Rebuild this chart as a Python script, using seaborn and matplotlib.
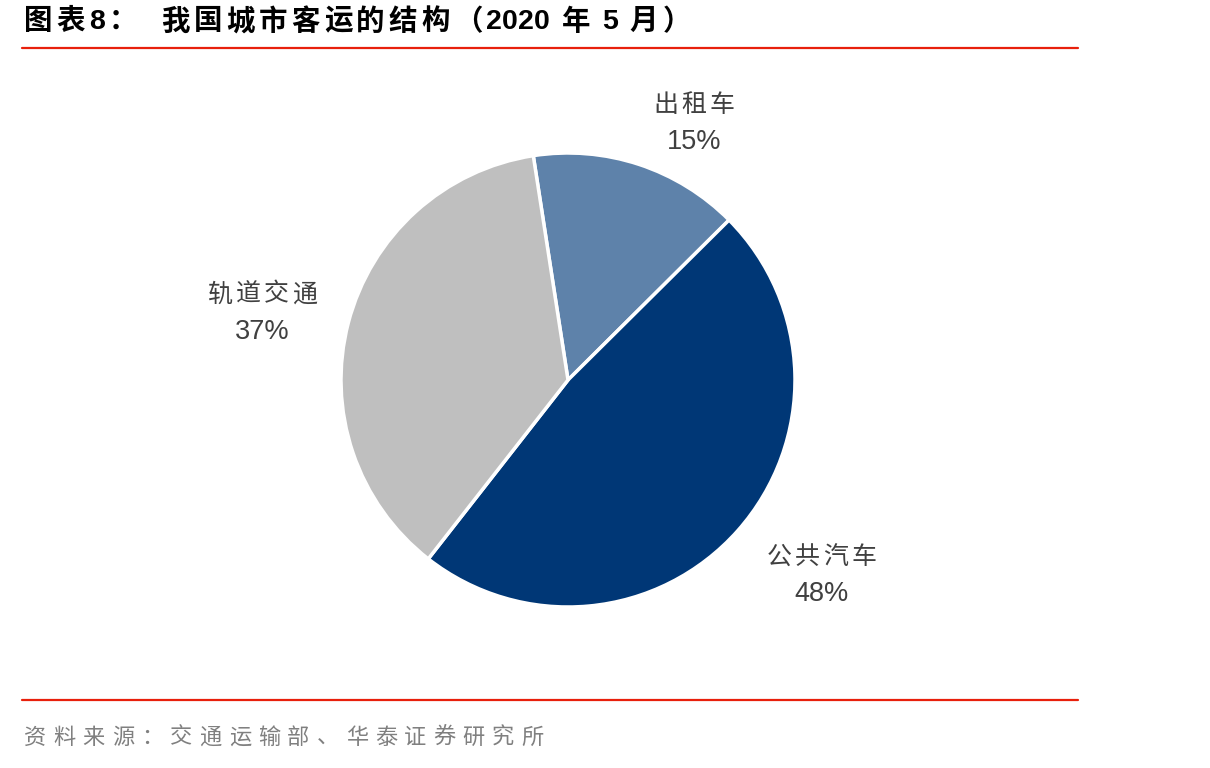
import matplotlib
matplotlib.use('Agg')
import matplotlib.pyplot as plt
import numpy as np
import seaborn as sns

sns.set_style('white')
plt.rcParams['font.family'] = ['Liberation Sans', 'Noto Sans CJK SC', 'DejaVu Sans']

# data
categories = ['出租车', '公共汽车', '轨道交通']
shares = [15, 48, 37]
slice_colors = ['#5E82AA', '#003776', '#BFBFBF']

title = '图表8：  我国城市客运的结构（2020 年 5 月）'
source = '资料来源：交通运输部、华泰证券研究所'

# label placement: (radius factor, angle shift in degrees)
label_pos = [(1.26, -8), (1.41, 4), (1.38, 2.2)]

W, H = 1210, 768
fig = plt.figure(figsize=(W / 100, H / 100), dpi=100)
renderer = fig.canvas.get_renderer()


def spaced_text(x, y, s, size, track, ha='left', **kw):
    """draw s char by char from pixel (x, y from top), extra tracking px around CJK chars"""
    widths = []
    for ch in s:
        t = fig.text(0, 0, ch, fontsize=size, **kw)
        widths.append(t.get_window_extent(renderer).width if ch != ' ' else size * 0.28 * 1.389)
        t.remove()
    gaps = [0 if (a.isascii() and b.isascii()) else track for a, b in zip(s, s[1:])] + [0]
    total = sum(widths) + sum(gaps)
    x0 = x - total / 2 if ha == 'center' else x
    for ch, w, g in zip(s, widths, gaps):
        fig.text(x0 / W, 1 - y / H, ch, fontsize=size, ha='left', va='center', **kw)
        x0 += w + g


# pie axes: centre (568,380), radius 227 px
cx, cy, r = 568, 380, 227
ax = fig.add_axes([(cx - r) / W, (H - cy - r) / H, 2 * r / W, 2 * r / H])
wedges, _ = ax.pie(shares, colors=slice_colors, startangle=98.8, counterclock=False,
                   radius=1, wedgeprops=dict(edgecolor='white', linewidth=2.5))
ax.set_xlim(-1, 1)
ax.set_ylim(-1, 1)
ax.set_aspect('equal')
ax.axis('off')

for w, name, val, (dist, shift) in zip(wedges, categories, shares, label_pos):
    mid = np.deg2rad((w.theta1 + w.theta2) / 2 + shift)
    px, py = ax.transData.transform((dist * np.cos(mid), dist * np.sin(mid)))
    py = H - py
    spaced_text(px, py - 18, name, 18, 3, ha='center', color='#404040')
    fig.text(px / W, 1 - (py + 19) / H, f'{val}%', fontsize=19.5, color='#404040',
             ha='center', va='center')

# title and rules
spaced_text(24, 22, title, 20.5, 4, color='black', fontweight='bold')
fig.add_artist(plt.Line2D([22 / W, 1078 / W], [1 - 48 / H, 1 - 48 / H], color='#E8200C', lw=1.6))
fig.add_artist(plt.Line2D([22 / W, 1078 / W], [1 - 700 / H, 1 - 700 / H], color='#E8200C', lw=1.6))
spaced_text(24, 738, source, 16, 7, color='#808080')

fig.savefig('out.png', dpi=100, facecolor='white')
